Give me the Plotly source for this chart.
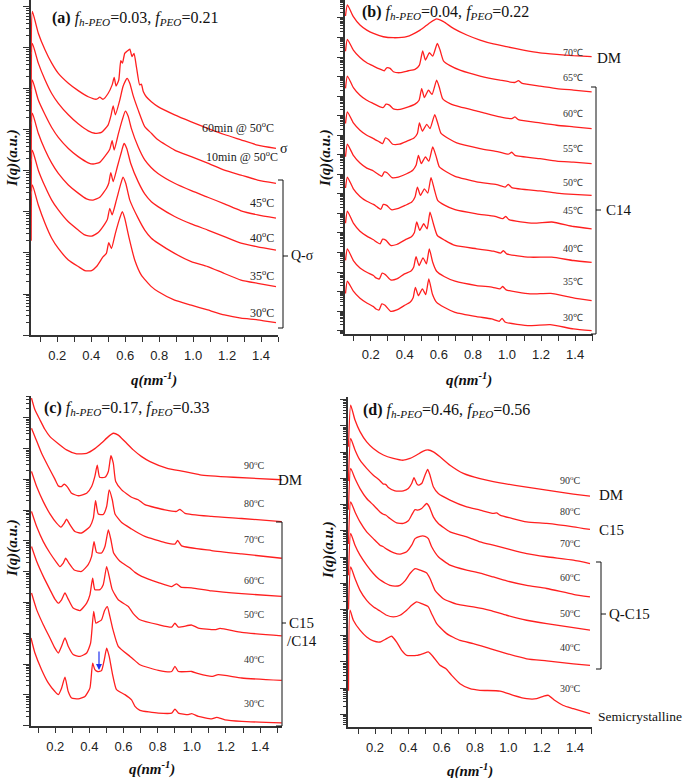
import numpy as np
import plotly.graph_objects as go

W, H = 687, 778
RED = "#ff1f1f"
AX = "#333333"

# ---------------- panel (a): f_h-PEO=0.03 ----------------
qa1 = [0.046, 0.053, 0.088, 0.128, 0.167, 0.206, 0.265, 0.323, 0.382, 0.431, 0.450, 0.470, 0.499, 0.523, 0.535, 0.546, 0.562, 0.574, 0.584, 0.597, 0.613, 0.627, 0.640, 0.652, 0.666, 0.685, 0.695, 0.707, 0.724, 0.754, 0.793, 0.891, 0.989, 1.086, 1.184, 1.282, 1.380, 1.488]
va1 = [6.9, 7.89, 7.36, 6.95, 6.63, 6.38, 6.14, 5.96, 5.81, 5.75, 5.80, 5.75, 5.89, 6.10, 6.28, 6.07, 6.22, 6.69, 6.63, 6.87, 6.93, 6.97, 6.79, 6.87, 6.54, 6.10, 6.12, 5.93, 5.81, 5.69, 5.57, 5.37, 5.20, 5.04, 4.89, 4.76, 4.63, 4.55]
qa2 = [0.046, 0.053, 0.088, 0.128, 0.167, 0.206, 0.265, 0.323, 0.382, 0.421, 0.460, 0.499, 0.515, 0.529, 0.542, 0.568, 0.587, 0.611, 0.627, 0.646, 0.676, 0.715, 0.754, 0.793, 0.891, 0.989, 1.086, 1.184, 1.282, 1.380, 1.488]
va2 = [6.0, 7.11, 6.63, 6.22, 5.89, 5.65, 5.37, 5.15, 4.98, 4.92, 4.94, 5.12, 5.33, 5.59, 5.37, 5.73, 6.06, 6.26, 6.14, 5.85, 5.49, 5.08, 4.92, 4.76, 4.51, 4.35, 4.19, 4.02, 3.90, 3.78, 3.70]
qa3 = [0.046, 0.053, 0.088, 0.128, 0.167, 0.206, 0.265, 0.323, 0.382, 0.411, 0.450, 0.490, 0.509, 0.523, 0.535, 0.558, 0.582, 0.601, 0.617, 0.636, 0.676, 0.715, 0.754, 0.793, 0.891, 0.989, 1.086, 1.184, 1.282, 1.380, 1.488]
va3 = [5.2, 6.22, 5.73, 5.37, 5.06, 4.82, 4.55, 4.35, 4.20, 4.17, 4.21, 4.41, 4.53, 4.74, 4.51, 4.88, 5.24, 5.46, 5.34, 5.04, 4.59, 4.27, 4.08, 3.94, 3.70, 3.52, 3.36, 3.20, 3.03, 2.93, 2.85]
qa4 = [0.046, 0.053, 0.088, 0.128, 0.167, 0.206, 0.265, 0.323, 0.372, 0.411, 0.450, 0.490, 0.503, 0.515, 0.529, 0.554, 0.578, 0.593, 0.609, 0.632, 0.676, 0.715, 0.754, 0.793, 0.891, 0.989, 1.086, 1.184, 1.282, 1.380, 1.488]
va4 = [4.3, 5.41, 4.92, 4.51, 4.19, 3.94, 3.66, 3.46, 3.32, 3.29, 3.36, 3.58, 3.70, 3.96, 3.74, 4.11, 4.47, 4.67, 4.55, 4.19, 3.74, 3.44, 3.25, 3.13, 2.89, 2.71, 2.56, 2.40, 2.24, 2.15, 2.07]
qa5 = [0.046, 0.053, 0.088, 0.128, 0.167, 0.206, 0.265, 0.323, 0.362, 0.402, 0.441, 0.480, 0.495, 0.509, 0.523, 0.548, 0.572, 0.587, 0.603, 0.627, 0.676, 0.715, 0.754, 0.793, 0.891, 0.989, 1.086, 1.184, 1.282, 1.380, 1.488]
va5 = [3.5, 4.51, 4.02, 3.62, 3.29, 3.05, 2.76, 2.56, 2.44, 2.41, 2.50, 2.71, 2.82, 3.09, 2.93, 3.29, 3.66, 3.85, 3.70, 3.29, 2.85, 2.56, 2.36, 2.24, 1.99, 1.79, 1.67, 1.50, 1.34, 1.26, 1.18]
qa6 = [0.046, 0.053, 0.088, 0.128, 0.167, 0.206, 0.265, 0.323, 0.362, 0.402, 0.431, 0.470, 0.489, 0.503, 0.519, 0.542, 0.568, 0.583, 0.597, 0.621, 0.656, 0.695, 0.754, 0.793, 0.891, 0.989, 1.086, 1.184, 1.282, 1.380, 1.488]
va6 = [2.3, 3.66, 3.17, 2.72, 2.36, 2.11, 1.83, 1.67, 1.57, 1.57, 1.67, 1.91, 1.99, 2.25, 2.11, 2.48, 2.85, 3.01, 2.85, 2.40, 1.83, 1.46, 1.18, 1.06, 0.85, 0.73, 0.61, 0.49, 0.41, 0.37, 0.30]

# ---------------- panel (b): f_h-PEO=0.04 ----------------
qb1 = [0.052, 0.063, 0.098, 0.137, 0.177, 0.216, 0.274, 0.333, 0.411, 0.490, 0.548, 0.587, 0.627, 0.685, 0.764, 0.842, 0.920, 0.998, 1.096, 1.194, 1.292, 1.390, 1.497]
vb1 = [16.1, 16.67, 16.07, 15.64, 15.38, 15.21, 15.04, 14.99, 15.04, 15.38, 15.76, 15.95, 15.81, 15.47, 15.13, 14.87, 14.67, 14.53, 14.36, 14.22, 14.14, 14.07, 14.02]
qb2 = [0.052, 0.063, 0.098, 0.137, 0.177, 0.216, 0.255, 0.280, 0.294, 0.314, 0.333, 0.372, 0.421, 0.460, 0.486, 0.505, 0.521, 0.544, 0.564, 0.591, 0.607, 0.627, 0.666, 0.724, 0.842, 0.959, 1.047, 1.067, 1.086, 1.194, 1.292, 1.390, 1.497]
vb2 = [14.3, 14.91, 14.36, 13.98, 13.71, 13.54, 13.38, 13.30, 13.45, 13.42, 13.25, 13.20, 13.30, 13.37, 13.59, 14.32, 13.85, 14.22, 14.05, 14.70, 14.36, 13.81, 13.56, 13.33, 13.03, 12.82, 12.70, 12.79, 12.67, 12.51, 12.39, 12.31, 12.22]
qb3 = [0.052, 0.063, 0.098, 0.137, 0.177, 0.216, 0.255, 0.274, 0.290, 0.310, 0.333, 0.372, 0.421, 0.460, 0.484, 0.499, 0.515, 0.539, 0.560, 0.587, 0.603, 0.623, 0.666, 0.724, 0.842, 0.959, 1.028, 1.047, 1.067, 1.194, 1.292, 1.390, 1.497]
vb3 = [12.4, 13.03, 12.44, 12.05, 11.79, 11.62, 11.45, 11.42, 11.59, 11.54, 11.35, 11.32, 11.45, 11.59, 11.79, 12.39, 11.93, 12.31, 12.09, 12.82, 12.44, 11.86, 11.62, 11.45, 11.20, 10.94, 10.85, 10.94, 10.80, 10.63, 10.51, 10.43, 10.34]
qb4 = [0.052, 0.063, 0.098, 0.137, 0.177, 0.216, 0.251, 0.270, 0.286, 0.304, 0.329, 0.368, 0.411, 0.454, 0.474, 0.486, 0.503, 0.529, 0.548, 0.576, 0.593, 0.613, 0.656, 0.705, 0.842, 0.950, 1.008, 1.028, 1.047, 1.194, 1.292, 1.390, 1.497]
vb4 = [10.6, 11.20, 10.63, 10.26, 10.00, 9.83, 9.66, 9.57, 9.86, 9.78, 9.54, 9.54, 9.69, 9.86, 10.09, 10.63, 10.21, 10.56, 10.34, 11.06, 10.63, 10.09, 9.83, 9.61, 9.32, 9.15, 9.03, 9.13, 8.97, 8.80, 8.68, 8.62, 8.55]
qb5 = [0.052, 0.063, 0.098, 0.137, 0.177, 0.216, 0.245, 0.265, 0.280, 0.298, 0.325, 0.362, 0.411, 0.447, 0.466, 0.480, 0.497, 0.521, 0.541, 0.564, 0.584, 0.603, 0.646, 0.695, 0.822, 0.940, 0.989, 1.008, 1.028, 1.194, 1.292, 1.390, 1.497]
vb5 = [8.9, 9.54, 8.97, 8.58, 8.32, 8.17, 8.00, 7.90, 8.12, 8.07, 7.83, 7.86, 8.03, 8.21, 8.46, 8.97, 8.55, 8.89, 8.67, 9.40, 8.92, 8.38, 8.12, 7.90, 7.61, 7.47, 7.35, 7.49, 7.32, 7.15, 7.04, 6.97, 6.92]
qb6 = [0.052, 0.063, 0.098, 0.137, 0.177, 0.216, 0.239, 0.259, 0.274, 0.294, 0.321, 0.357, 0.402, 0.441, 0.460, 0.474, 0.492, 0.515, 0.535, 0.554, 0.574, 0.593, 0.636, 0.695, 0.822, 0.930, 0.975, 0.993, 1.012, 1.155, 1.263, 1.390, 1.497]
vb6 = [7.3, 7.86, 7.26, 6.87, 6.62, 6.46, 6.32, 6.21, 6.46, 6.41, 6.19, 6.24, 6.41, 6.58, 6.84, 7.35, 6.92, 7.26, 7.04, 7.83, 7.21, 6.67, 6.41, 6.19, 5.98, 5.85, 5.73, 5.85, 5.68, 5.50, 5.56, 5.33, 5.21]
qb7 = [0.052, 0.063, 0.098, 0.137, 0.177, 0.216, 0.235, 0.255, 0.270, 0.290, 0.317, 0.353, 0.402, 0.437, 0.456, 0.470, 0.488, 0.511, 0.531, 0.548, 0.568, 0.591, 0.636, 0.695, 0.822, 0.920, 0.963, 0.979, 0.998, 1.135, 1.263, 1.390, 1.497]
vb7 = [5.5, 6.12, 5.50, 5.09, 4.84, 4.65, 4.53, 4.44, 4.68, 4.62, 4.36, 4.41, 4.65, 4.79, 5.01, 5.56, 5.13, 5.47, 5.21, 6.07, 5.47, 4.87, 4.62, 4.36, 4.19, 4.07, 3.97, 4.10, 3.93, 3.76, 3.76, 3.59, 3.50]
qb8 = [0.052, 0.063, 0.098, 0.137, 0.177, 0.216, 0.231, 0.251, 0.267, 0.286, 0.317, 0.353, 0.398, 0.435, 0.452, 0.466, 0.484, 0.507, 0.527, 0.544, 0.564, 0.587, 0.631, 0.695, 0.822, 0.916, 0.959, 0.975, 0.995, 1.135, 1.257, 1.390, 1.497]
vb8 = [3.6, 4.19, 3.59, 3.21, 2.99, 2.82, 2.70, 2.65, 2.94, 2.87, 2.60, 2.65, 2.91, 3.04, 3.25, 3.79, 3.33, 3.73, 3.42, 4.19, 3.50, 3.04, 2.77, 2.53, 2.31, 2.22, 2.14, 2.26, 2.09, 1.88, 1.91, 1.68, 1.54]
qb9 = [0.052, 0.063, 0.098, 0.137, 0.177, 0.216, 0.231, 0.249, 0.265, 0.284, 0.317, 0.353, 0.396, 0.431, 0.449, 0.462, 0.480, 0.503, 0.523, 0.541, 0.562, 0.587, 0.631, 0.695, 0.822, 0.910, 0.955, 0.971, 0.991, 1.135, 1.253, 1.390, 1.497]
vb9 = [1.9, 2.53, 2.02, 1.66, 1.42, 1.23, 1.11, 1.06, 1.37, 1.30, 0.99, 1.06, 1.28, 1.45, 1.68, 2.22, 1.79, 2.14, 1.85, 2.65, 1.88, 1.45, 1.20, 0.94, 0.72, 0.60, 0.48, 0.63, 0.43, 0.26, 0.31, 0.09, 0.00]

# ---------------- panel (c): f_h-PEO=0.17 ----------------
qc1 = [0.061, 0.081, 0.110, 0.139, 0.169, 0.218, 0.266, 0.325, 0.384, 0.432, 0.471, 0.511, 0.540, 0.569, 0.608, 0.657, 0.706, 0.755, 0.852, 0.950, 1.048, 1.243, 1.526]
vc1 = [10.64, 10.26, 9.94, 9.63, 9.39, 9.16, 8.96, 8.83, 8.85, 9.00, 9.18, 9.39, 9.50, 9.44, 9.23, 8.96, 8.74, 8.58, 8.37, 8.26, 8.15, 8.07, 7.99]
qc2 = [0.061, 0.081, 0.120, 0.159, 0.198, 0.218, 0.237, 0.253, 0.272, 0.296, 0.335, 0.384, 0.413, 0.432, 0.446, 0.460, 0.491, 0.511, 0.526, 0.540, 0.554, 0.589, 0.647, 0.686, 0.725, 0.843, 0.911, 0.930, 0.960, 1.116, 1.292, 1.526]
vc2 = [9.66, 9.39, 8.85, 8.42, 8.01, 7.79, 7.77, 7.85, 7.75, 7.55, 7.47, 7.55, 7.77, 8.10, 8.46, 8.07, 8.07, 8.26, 8.77, 8.53, 7.93, 7.66, 7.42, 7.34, 7.18, 7.01, 6.96, 7.03, 6.90, 6.80, 6.73, 6.63]
qc3 = [0.061, 0.091, 0.130, 0.169, 0.208, 0.233, 0.253, 0.266, 0.286, 0.315, 0.354, 0.403, 0.423, 0.436, 0.452, 0.481, 0.501, 0.516, 0.534, 0.550, 0.589, 0.647, 0.686, 0.725, 0.843, 0.901, 0.917, 0.940, 1.116, 1.292, 1.526]
vc3 = [8.26, 7.77, 7.28, 6.88, 6.58, 6.45, 6.58, 6.71, 6.53, 6.31, 6.26, 6.47, 6.74, 7.31, 6.88, 6.86, 7.12, 7.66, 7.34, 6.88, 6.60, 6.39, 6.26, 6.15, 5.95, 5.90, 6.02, 5.84, 5.69, 5.58, 5.44]
qc4 = [0.061, 0.091, 0.130, 0.169, 0.208, 0.227, 0.247, 0.261, 0.280, 0.311, 0.354, 0.393, 0.413, 0.427, 0.442, 0.471, 0.491, 0.511, 0.526, 0.542, 0.579, 0.638, 0.667, 0.706, 0.804, 0.882, 0.911, 0.936, 0.999, 1.116, 1.292, 1.526]
vc4 = [6.96, 6.47, 5.98, 5.61, 5.30, 5.17, 5.28, 5.44, 5.28, 5.06, 5.01, 5.23, 5.50, 5.98, 5.63, 5.61, 5.82, 6.36, 6.04, 5.61, 5.34, 5.12, 4.98, 4.85, 4.65, 4.52, 4.61, 4.50, 4.48, 4.38, 4.29, 4.20]
qc5 = [0.061, 0.091, 0.130, 0.169, 0.198, 0.218, 0.237, 0.257, 0.276, 0.305, 0.345, 0.384, 0.403, 0.419, 0.432, 0.462, 0.481, 0.501, 0.516, 0.534, 0.569, 0.628, 0.657, 0.696, 0.804, 0.882, 0.901, 0.921, 0.999, 1.038, 1.136, 1.165, 1.292, 1.526]
vc5 = [5.82, 5.34, 4.85, 4.42, 4.11, 3.98, 4.09, 4.31, 4.11, 3.82, 3.74, 3.98, 4.25, 4.79, 4.42, 4.42, 4.58, 5.17, 4.85, 4.42, 4.09, 3.87, 3.64, 3.44, 3.28, 3.20, 3.33, 3.20, 3.27, 3.17, 3.12, 3.16, 3.03, 2.92]
qc6 = [0.061, 0.091, 0.130, 0.169, 0.198, 0.218, 0.237, 0.257, 0.276, 0.305, 0.345, 0.384, 0.407, 0.425, 0.438, 0.452, 0.471, 0.489, 0.505, 0.520, 0.538, 0.569, 0.638, 0.657, 0.696, 0.804, 0.882, 0.901, 0.921, 0.999, 1.038, 1.116, 1.155, 1.292, 1.526]
vc6 = [4.31, 3.77, 3.28, 2.85, 2.52, 2.36, 2.58, 2.85, 2.58, 2.31, 2.25, 2.36, 2.68, 3.71, 3.33, 3.37, 3.44, 3.74, 3.87, 3.55, 3.12, 2.58, 2.25, 2.16, 1.98, 1.80, 1.76, 1.93, 1.76, 1.76, 1.69, 1.60, 1.66, 1.55, 1.47]
qc7 = [0.058, 0.081, 0.120, 0.159, 0.198, 0.218, 0.237, 0.257, 0.276, 0.296, 0.335, 0.374, 0.403, 0.419, 0.432, 0.448, 0.471, 0.487, 0.501, 0.516, 0.534, 0.559, 0.608, 0.647, 0.667, 0.696, 0.804, 0.882, 0.901, 0.921, 0.979, 0.999, 1.038, 1.116, 1.145, 1.194, 1.292, 1.526]
vc7 = [2.85, 2.36, 1.82, 1.39, 1.11, 1.01, 1.22, 1.58, 1.11, 0.90, 0.87, 0.95, 1.22, 2.03, 1.82, 1.76, 1.79, 2.14, 2.52, 2.25, 1.71, 1.17, 1.01, 0.84, 0.63, 0.50, 0.41, 0.41, 0.54, 0.41, 0.36, 0.39, 0.30, 0.22, 0.27, 0.19, 0.14, 0.09]

# ---------------- panel (d): f_h-PEO=0.46 ----------------
qd1 = [0.041, 0.054, 0.080, 0.110, 0.150, 0.190, 0.250, 0.310, 0.370, 0.410, 0.450, 0.490, 0.520, 0.550, 0.590, 0.650, 0.730, 0.830, 0.950, 1.090, 1.230, 1.390, 1.490]
vd1 = [10.2, 11.79, 11.22, 10.78, 10.39, 10.14, 9.89, 9.76, 9.69, 9.76, 9.89, 10.04, 10.08, 10.01, 9.82, 9.50, 9.19, 8.99, 8.83, 8.68, 8.55, 8.40, 8.32]
qd2 = [0.041, 0.054, 0.080, 0.110, 0.150, 0.190, 0.230, 0.250, 0.264, 0.280, 0.320, 0.370, 0.400, 0.420, 0.434, 0.450, 0.460, 0.480, 0.500, 0.516, 0.530, 0.550, 0.580, 0.650, 0.750, 0.830, 0.910, 0.930, 0.950, 1.110, 1.230, 1.390, 1.490]
vd2 = [8.9, 10.52, 10.08, 9.69, 9.38, 9.12, 8.91, 8.78, 8.77, 8.65, 8.52, 8.52, 8.61, 8.80, 9.03, 8.80, 8.74, 8.80, 9.12, 9.34, 9.12, 8.68, 8.42, 8.17, 7.91, 7.79, 7.66, 7.68, 7.60, 7.34, 7.28, 7.15, 7.05]
qd3 = [0.041, 0.054, 0.080, 0.110, 0.150, 0.190, 0.230, 0.250, 0.264, 0.290, 0.330, 0.370, 0.400, 0.420, 0.440, 0.456, 0.480, 0.510, 0.526, 0.550, 0.580, 0.650, 0.750, 0.830, 0.910, 0.990, 1.110, 1.230, 1.390, 1.490]
vd3 = [7.8, 9.38, 8.99, 8.61, 8.23, 7.98, 7.72, 7.63, 7.60, 7.47, 7.30, 7.28, 7.38, 7.60, 7.81, 7.79, 7.85, 8.04, 7.91, 7.53, 7.28, 6.96, 6.77, 6.58, 6.45, 6.32, 6.13, 6.01, 5.88, 5.75]
qd4 = [0.041, 0.054, 0.080, 0.110, 0.150, 0.190, 0.230, 0.250, 0.270, 0.310, 0.350, 0.390, 0.420, 0.440, 0.470, 0.500, 0.520, 0.540, 0.580, 0.650, 0.750, 0.830, 0.910, 0.990, 1.110, 1.230, 1.390, 1.490]
vd4 = [6.5, 8.10, 7.72, 7.34, 6.96, 6.70, 6.45, 6.39, 6.30, 6.17, 6.11, 6.20, 6.45, 6.70, 6.79, 6.79, 6.70, 6.39, 6.01, 5.69, 5.50, 5.39, 5.24, 5.09, 4.92, 4.80, 4.58, 4.48]
qd5 = [0.041, 0.054, 0.080, 0.110, 0.150, 0.190, 0.220, 0.240, 0.260, 0.290, 0.320, 0.350, 0.380, 0.410, 0.440, 0.470, 0.510, 0.530, 0.560, 0.610, 0.690, 0.790, 0.890, 0.990, 1.110, 1.230, 1.390, 1.490]
vd5 = [5.3, 6.90, 6.45, 6.07, 5.69, 5.37, 5.18, 5.09, 5.01, 4.92, 4.89, 4.92, 5.09, 5.37, 5.56, 5.50, 5.39, 5.18, 4.73, 4.41, 4.20, 4.10, 3.97, 3.78, 3.59, 3.46, 3.31, 3.21]
qd6 = [0.041, 0.054, 0.080, 0.110, 0.150, 0.190, 0.230, 0.270, 0.310, 0.350, 0.390, 0.420, 0.450, 0.480, 0.520, 0.540, 0.570, 0.630, 0.710, 0.790, 0.890, 0.990, 1.110, 1.230, 1.390, 1.490]
vd6 = [4.0, 5.62, 5.18, 4.73, 4.35, 4.10, 3.94, 3.78, 3.72, 3.78, 3.97, 4.16, 4.29, 4.22, 4.10, 3.84, 3.46, 3.08, 2.82, 2.70, 2.51, 2.32, 2.12, 2.04, 1.93, 1.87]
qd7 = [0.041, 0.050, 0.070, 0.110, 0.150, 0.190, 0.230, 0.270, 0.300, 0.330, 0.360, 0.390, 0.450, 0.490, 0.520, 0.550, 0.590, 0.626, 0.660, 0.710, 0.770, 0.830, 0.950, 1.030, 1.110, 1.170, 1.210, 1.240, 1.280, 1.330, 1.390, 1.490]
vd7 = [0.9, 3.97, 3.59, 3.21, 2.95, 2.80, 2.76, 2.89, 2.98, 2.76, 2.44, 2.25, 2.25, 2.32, 2.38, 2.19, 1.87, 1.74, 1.49, 1.17, 0.98, 0.92, 0.89, 0.73, 0.60, 0.60, 0.69, 0.73, 0.53, 0.34, 0.22, 0.03]

labels_a = ["60min @ 50<sup>o</sup>C", "10min @ 50<sup>o</sup>C", "45<sup>o</sup>C", "40<sup>o</sup>C", "35<sup>o</sup>C", "30<sup>o</sup>C"]
labels_b = ["70℃", "65℃", "60℃", "55℃", "50℃", "45℃", "40℃", "35℃", "30℃"]
labels_c = ["90<sup>o</sup>C", "80<sup>o</sup>C", "70<sup>o</sup>C", "60<sup>o</sup>C", "50<sup>o</sup>C", "40<sup>o</sup>C", "30<sup>o</sup>C"]
labels_d = ["90<sup>o</sup>C", "80<sup>o</sup>C", "70<sup>o</sup>C", "60<sup>o</sup>C", "50<sup>o</sup>C", "40<sup>o</sup>C", "30<sup>o</sup>C"]

panels = [
    ("x", "y", [(qa1, va1), (qa2, va2), (qa3, va3), (qa4, va4), (qa5, va5), (qa6, va6)]),
    ("x2", "y2", [(qb1, vb1), (qb2, vb2), (qb3, vb3), (qb4, vb4), (qb5, vb5), (qb6, vb6), (qb7, vb7), (qb8, vb8), (qb9, vb9)]),
    ("x3", "y3", [(qc1, vc1), (qc2, vc2), (qc3, vc3), (qc4, vc4), (qc5, vc5), (qc6, vc6), (qc7, vc7)]),
    ("x4", "y4", [(qd1, vd1), (qd2, vd2), (qd3, vd3), (qd4, vd4), (qd5, vd5), (qd6, vd6), (qd7, vd7)]),
]

fig = go.Figure()
for xa, ya, curves in panels:
    for q, v in curves:
        fig.add_trace(go.Scatter(
            x=q, y=np.power(10.0, np.array(v)), mode="lines",
            line=dict(color=RED, width=1.3, shape="spline", smoothing=0.5),
            xaxis=xa, yaxis=ya, showlegend=False, hoverinfo="skip"))


def px(x):
    return x / W


def py(y):
    return 1 - y / H


def xax(d0, d1, r, anchor):
    return dict(domain=[px(d0), px(d1)], range=r, anchor=anchor,
                showline=True, linecolor=AX, linewidth=1.5, mirror=False,
                ticks="outside", ticklen=5, tickwidth=1, tickcolor=AX,
                tick0=0, dtick=0.2, tickformat=".1f",
                minor=dict(dtick=0.1, ticks="outside", ticklen=5, tickwidth=1, tickcolor=AX),
                tickfont=dict(family="Liberation Sans", size=13, color="#222"),
                ticklabelstandoff=3,
                showgrid=False, zeroline=False)


def yax(d0, d1, r, anchor):
    return dict(domain=[py(d1), py(d0)], range=r, anchor=anchor, type="log",
                showline=True, linecolor=AX, linewidth=1.5,
                ticks="outside", ticklen=6, tickwidth=1, tickcolor=AX,
                dtick=1, showticklabels=False,
                minor=dict(ticks="outside", ticklen=3, tickwidth=1, tickcolor=AX, dtick="D1"),
                showgrid=False, zeroline=False)


layout = dict(
    width=W, height=H, margin=dict(l=0, r=0, t=0, b=0),
    paper_bgcolor="white", plot_bgcolor="white", showlegend=False,
    xaxis=xax(31, 278, [0.045, 1.50], "y"),
    yaxis=yax(0, 335, [0, 8.17], "x"),
    xaxis2=xax(345, 593, [0.049, 1.505], "y2"),
    yaxis2=yax(0, 334, [-0.17, 16.92], "x2"),
    xaxis3=xax(31, 282, [0.058, 1.528], "y3"),
    yaxis3=yax(396, 726, [-0.01, 10.71], "x3"),
    xaxis4=xax(348, 592, [0.038, 1.502], "y4"),
    yaxis4=yax(397, 727, [-0.48, 12.10], "x4"),
)
fig.update_layout(**layout)

SERIF = "Liberation Serif"
ann = []


def text(x, y, t, size=12, color="#111", xanchor="center", angle=0):
    ann.append(dict(x=px(x), y=py(y), xref="paper", yref="paper", text=t, showarrow=False,
                    xanchor=xanchor, yanchor="middle", textangle=angle,
                    font=dict(family=SERIF, size=size, color=color)))


def title(x, y, letter, fh, fp):
    t = ("<b>(%s)</b> <i>f</i><sub><i>h-PEO</i></sub>=%s, <i>f</i><sub><i>PEO</i></sub>=%s"
         % (letter, fh, fp))
    text(x, y, t, size=16, color="#111", xanchor="left")


title(50, 18, "a", "0.03", "0.21")
title(360, 13, "b", "0.04", "0.22")
title(42, 408, "c", "0.17", "0.33")
title(361, 410, "d", "0.46", "0.56")

for x, y in [(154, 379), (469, 379), (152, 768), (470, 770)]:
    text(x, y, "<b><i>q(nm<sup>-1</sup>)</i></b>", size=15)
for x, y in [(12, 158), (325, 158), (12, 548), (328, 550)]:
    text(x, y, "<b><i>I(q)(a.u.)</i></b>", size=15, angle=-90)

# panel a labels
for (x, y), t in zip([(238, 128), (242, 157), (262, 202), (262, 237), (262, 276), (262, 313)], labels_a):
    text(x, y, t, size=12, color="#222")
text(284, 148, "σ", size=14)
text(289, 256, "Q-σ", size=14, xanchor="left")

# panel b labels
for (x, y), t in zip([(573, 53), (573, 77), (573, 113), (573, 148), (573, 183),
                      (573, 210), (573, 248), (573, 282), (573, 318)], labels_b):
    text(x, y, t, size=10, color="#333")
text(595, 58, "DM", size=15, xanchor="left")
text(604, 210, "C14", size=15, xanchor="left")

# panel c labels
for (x, y), t in zip([(255, 465), (255, 503), (255, 539), (255, 580), (255, 614), (255, 659), (255, 703)], labels_c):
    text(x, y, t, size=10, color="#333")
text(276, 480, "DM", size=15, xanchor="left")
text(287, 623, "C15", size=15, xanchor="left")
text(285, 641, "/C14", size=15, xanchor="left")

# panel d labels
for (x, y), t in zip([(570, 480), (570, 511), (570, 543), (570, 577), (570, 613), (570, 647), (570, 688)], labels_d):
    text(x, y, t, size=10, color="#333")
text(597, 495, "DM", size=15, xanchor="left")
text(597, 530, "C15", size=15, xanchor="left")
text(607, 614, "Q-C15", size=15, xanchor="left")
text(596, 716, "Semicrystalline", size=13.5, xanchor="left")

# blue arrow in (c)
ann.append(dict(x=px(99), y=py(670), xref="paper", yref="paper", ax=0, ay=-20,
                axref="pixel", ayref="pixel", text="", showarrow=True,
                arrowhead=2, arrowsize=1, arrowwidth=1.2, arrowcolor="#2233ee"))

shapes = []


def bracket(x, y0, y1, ym, w=5, wt=5):
    for (a, b, c, d) in [(x, y0, x, y1), (x - w, y0, x, y0), (x - w, y1, x, y1), (x, ym, x + wt, ym)]:
        shapes.append(dict(type="line", xref="paper", yref="paper",
                           x0=px(a), y0=py(b), x1=px(c), y1=py(d),
                           line=dict(color="#111", width=1)))


bracket(283, 180, 328, 256)
bracket(596, 87, 334, 210)
bracket(282, 522, 726, 623, w=6, wt=4)
bracket(601, 562, 669, 614)

fig.update_layout(annotations=ann, shapes=shapes)
fig.write_html("out.html")
